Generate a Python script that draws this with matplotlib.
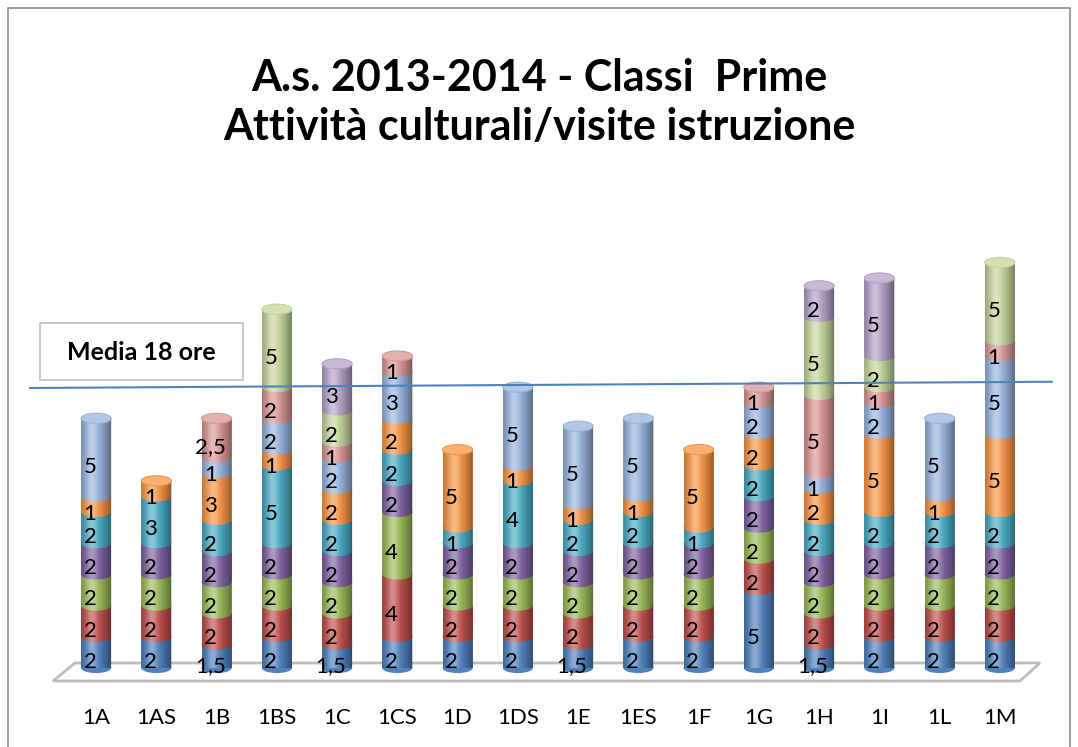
import matplotlib
matplotlib.use('Agg')
import matplotlib.pyplot as plt
import matplotlib.transforms as mtransforms
import numpy as np
from matplotlib.patches import Rectangle, Ellipse, Polygon
from matplotlib.colors import to_rgb

classes = ['1A', '1AS', '1B', '1BS', '1C', '1CS', '1D', '1DS', '1E', '1ES', '1F', '1G', '1H', '1I', '1L', '1M']

s1 = [2, 2, 1.5, 2, 1.5, 2, 2, 2, 1.5, 2, 2, 5, 1.5, 2, 2, 2]
s2 = [2, 2, 2, 2, 2, 4, 2, 2, 2, 2, 2, 2, 2, 2, 2, 2]
s3 = [2, 2, 2, 2, 2, 4, 2, 2, 2, 2, 2, 2, 2, 2, 2, 2]
s4 = [2, 2, 2, 2, 2, 2, 2, 2, 2, 2, 2, 2, 2, 2, 2, 2]
s5 = [2, 3, 2, 5, 2, 2, 1, 4, 2, 2, 1, 2, 2, 2, 2, 2]
s6 = [1, 1, 3, 1, 2, 2, 5, 1, 1, 1, 5, 2, 2, 5, 1, 5]
s7 = [5, 0, 1, 2, 2, 3, 0, 5, 5, 5, 0, 2, 1, 2, 5, 5]
s8 = [0, 0, 2.5, 2, 1, 1, 0, 0, 0, 0, 0, 1, 5, 1, 0, 1]
s9 = [0, 0, 0, 5, 2, 0, 0, 0, 0, 0, 0, 0, 5, 2, 0, 5]
s10 = [0, 0, 0, 0, 3, 0, 0, 0, 0, 0, 0, 0, 2, 5, 0, 0]

media = 18

series = [s1, s2, s3, s4, s5, s6, s7, s8, s9, s10]
colors = ['#4F81BD', '#C0504D', '#9BBB59', '#8064A2', '#4BACC6',
          '#F79646', '#98B4DD', '#DA9795', '#C3D69B', '#B3A2C7']

W, H = 1078, 747
fig = plt.figure(figsize=(W / 100, H / 100), dpi=100)
plt.rcParams['font.family'] = ['Lato', 'DejaVu Sans']

def fx(px):
    return px / W

def fy(py):
    return 1 - py / H

# axes: category i at pixel 96 + 60.27*i, value 0 at y=668, 15.6 px per unit
ax = fig.add_axes([fx(66), fy(668), fx(1030) - fx(66), fy(150) - fy(668)])
ax.axis('off')

# outer frame
fig.patches.append(Rectangle((fx(8), fy(760)), fx(1070) - fx(8), fy(8) - fy(760),
                             transform=fig.transFigure, fill=False,
                             edgecolor='#8C8C8C', linewidth=1.2))

# floor
floor = Polygon([(fx(53), fy(681)), (fx(75), fy(663)), (fx(1040), fy(663)), (fx(1020), fy(681))],
                closed=True, transform=fig.transFigure, facecolor='white',
                edgecolor='#BDBDBD', linewidth=2, zorder=0, clip_on=False)
ax.add_patch(floor)

bw = 0.5
eh = 0.65  # ellipse height in data units
x = np.arange(len(classes))

def lighten(c, f):
    r, g, b = to_rgb(c)
    return (r + (1 - r) * f, g + (1 - g) * f, b + (1 - b) * f)

# shading profile for cylinders
n = 64
t = np.linspace(0, 1, n)
shade = np.zeros((1, n, 4))
dark = 0.45 * (np.abs(t - 0.4) / 0.6) ** 1.8
light = 0.35 * np.exp(-((t - 0.35) / 0.18) ** 2)
shade[0, :, :3] = (light / (light + dark + 1e-9))[:, None]
shade[0, :, 3] = np.clip(light + dark, 0, 1)

theta = np.linspace(np.pi, 2 * np.pi, 40)
for i in range(len(classes)):
    bottom = 0.0
    for k, s in enumerate(series):
        v = s[i]
        if v == 0:
            continue
        ax.add_patch(Ellipse((x[i], bottom), bw, eh, facecolor=colors[k],
                             edgecolor='none', zorder=2 + k * 0.01, clip_on=False))
        ax.bar(x[i], v, bw, bottom=bottom, color=colors[k], zorder=2 + k * 0.01 + 0.001)
        label = str(int(v)) if float(v).is_integer() else str(v).replace('.', ',')
        ax.text(x[i] - 0.1, bottom + v / 2 - 0.6, label, ha='center', va='center',
                fontsize=16, color='black', zorder=6)
        bottom += v
        top_color = colors[k]
    # cylinder shading clipped to the body
    verts = [(x[i] + bw / 2 * np.cos(a), eh / 2 * np.sin(a)) for a in theta]
    verts += [(x[i] + bw / 2, bottom), (x[i] - bw / 2, bottom)]
    clip = Polygon(verts, closed=True, transform=ax.transData, facecolor='none', edgecolor='none')
    ax.add_patch(clip)
    im = ax.imshow(shade, extent=(x[i] - bw / 2, x[i] + bw / 2, -eh / 2, bottom),
                   aspect='auto', interpolation='bilinear', zorder=3)
    im.set_clip_path(clip)
    ax.add_patch(Ellipse((x[i], bottom), bw, eh, facecolor=lighten(top_color, 0.25),
                         edgecolor=top_color, linewidth=0.8, zorder=4))

ax.set_xlim(-0.5, 15.5)
ax.set_ylim(0, (668 - 150) / 15.6)

# category labels
lab_tr = mtransforms.blended_transform_factory(ax.transData, fig.transFigure)
for i, c in enumerate(classes):
    ax.text(x[i], fy(718), c, transform=lab_tr, ha='center', va='center',
            fontsize=16, color='black')

# media line (slightly tilted by the 3D view)
ax.plot([-1.095, 15.86], [media - 0.05, media + 0.35], color='#4F81BD', linewidth=1.5,
        zorder=7, clip_on=False)

# media box
fig.patches.append(Rectangle((fx(40), fy(380)), fx(243) - fx(40), fy(323) - fy(380),
                             transform=fig.transFigure, facecolor='white',
                             edgecolor='#BFBFBF', linewidth=1.2))
fig.text(fx(141), fy(353), 'Media 18 ore', ha='center', va='center',
         fontsize=18, fontweight='bold')

fig.text(0.5, fy(78), 'A.s. 2013-2014 - Classi  Prime', ha='center', va='center',
         fontsize=31, fontweight='bold')
fig.text(0.5, fy(127), 'Attività culturali/visite istruzione', ha='center', va='center',
         fontsize=31, fontweight='bold')

fig.savefig('out.png', dpi=100)
